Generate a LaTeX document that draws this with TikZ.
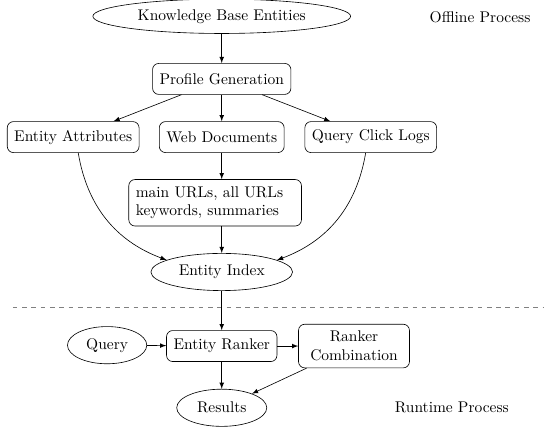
\documentclass[tikz,border=0pt]{standalone}
\usetikzlibrary{shapes.geometric,arrows}

\tikzset{
  box/.style={draw, rounded corners=4pt, inner sep=4.5pt, minimum height=20pt},
  oval/.style={draw, ellipse, inner xsep=4.6pt},
  bigoval/.style={oval, minimum height=24pt},
  flow/.style={-latex},
}

\begin{document}
\begin{tikzpicture}
  \useasboundingbox (0,0) rectangle (12.34,-9.71);

  % Offline part
  \node[oval] (kbe) at (5.03,-0.37) {Knowledge Base Entities};
  \node (offline) at (10.89,-0.39) {Offline Process};
  \node[box] (pg) at (5.03,-1.79) {Profile Generation};
  \node[box] (ea) at (1.66,-3.11) {Entity Attributes};
  \node[box] (wd) at (5.03,-3.11) {Web Documents};
  \node[box] (qcl) at (8.41,-3.11) {Query Click Logs};
  \node[box, text width=3.6cm, align=left] (urls) at (4.88,-4.60)
    {main URLs, all URLs\\ keywords, summaries};
  \node[bigoval] (ei) at (5.03,-6.17) {Entity Index};

  % Separator
  \coordinate (sepl) at (0.29,-6.96);
  \coordinate (sepr) at (12.34,-6.96);
  \draw[dashed, gray] (sepl) -- (sepr);

  % Runtime part
  \node[box] (er) at (5.03,-7.85) {Entity Ranker};
  \node[bigoval] (query) at (2.43,-7.83) {Query};
  \node[box, text width=2.2cm, align=center] (rc) at (8.03,-7.85) {Ranker\\ Combination};
  \node[bigoval] (res) at (5.03,-9.25) {Results};
  \node (runtime) at (10.25,-9.25) {Runtime Process};

  % Connections
  \draw[flow] (kbe) -- (pg);
  \draw[flow] (pg) -- (ea);
  \draw[flow] (pg) -- (wd);
  \draw[flow] (pg) -- (qcl);
  \draw[flow] (wd.south) -- (wd.south |- urls.north);
  \draw[flow] (ea) to[bend right] (ei);
  \draw[flow] (qcl) to[bend left] (ei);
  \draw[flow] (ei.north |- urls.south) -- (ei);
  \draw[flow] (ei) -- (er);
  \draw[flow] (query) -- (er);
  \draw[flow] (er) -- (er.east -| rc.west);
  \draw[flow] (er) -- (res);
  \draw[flow] (rc) -- (res);
\end{tikzpicture}
\end{document}
